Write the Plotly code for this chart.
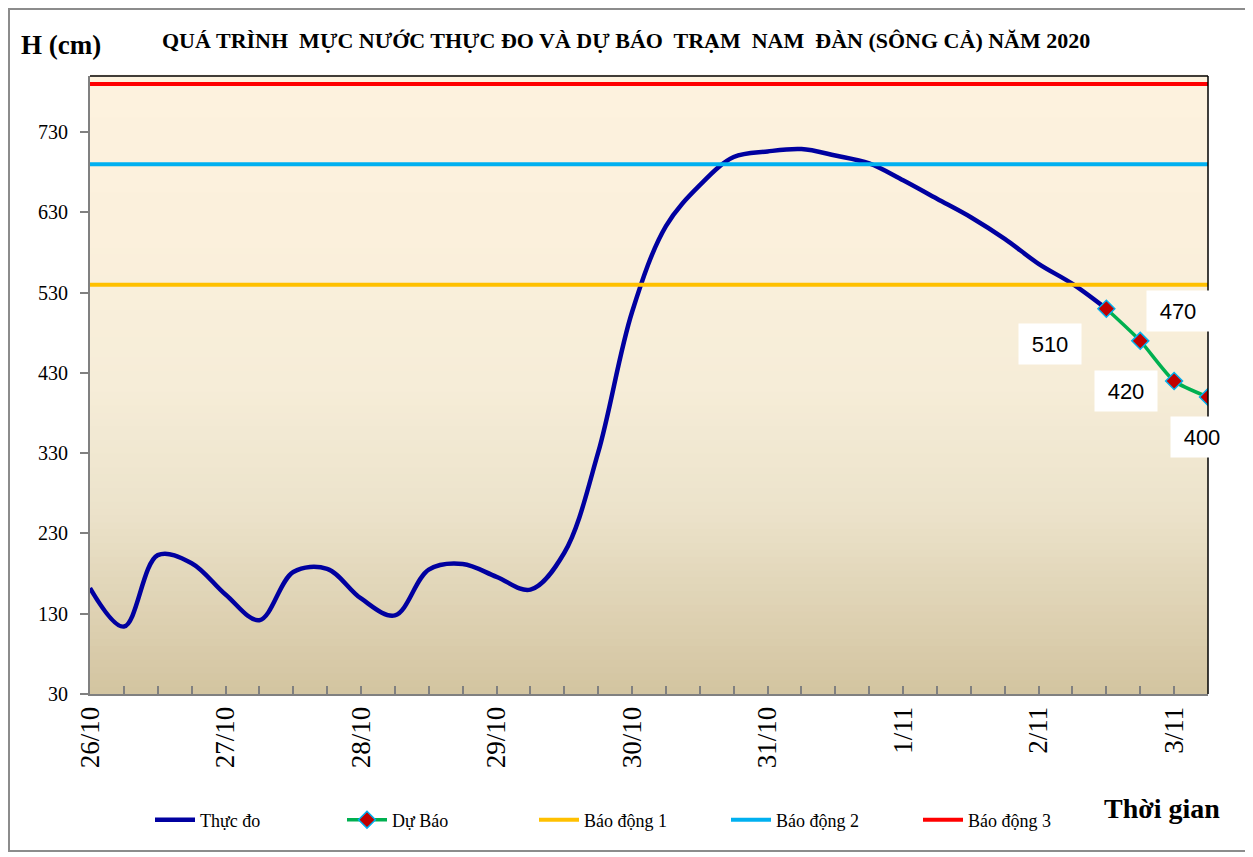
import plotly.graph_objects as go

# ---- data ----
x_labels = ["26/10", "27/10", "28/10", "29/10", "30/10", "31/10", "1/11", "2/11", "3/11"]
obs_idx = list(range(31))
obs_val = [162, 114, 203, 193, 154, 122, 182, 186, 149, 128, 185, 192, 176, 160,
           206, 331, 506, 613, 664, 699, 706, 709, 701, 691, 670, 647, 624, 597,
           566, 541, 510]
fc_idx = [30, 31, 32, 33]
fc_val = [510, 470, 420, 400]
alarm_names = ["Báo động 1", "Báo động 2", "Báo động 3"]
alarm_vals = [540, 690, 790]
alarm_colors = ["#FFC000", "#00B0F0", "#FF0000"]
y_ticks = [30, 130, 230, 330, 430, 530, 630, 730]
x_span = [0, 33]

fig = go.Figure()

fig.add_trace(go.Scatter(x=obs_idx, y=obs_val, mode="lines", name="Thực đo",
                         line=dict(color="#0000A0", width=4.5, shape="spline", smoothing=1.0)))
fig.add_trace(go.Scatter(x=fc_idx, y=fc_val, mode="lines+markers", name="Dự Báo",
                         line=dict(color="#00B050", width=3.5, shape="spline", smoothing=0.6),
                         marker=dict(symbol="diamond", size=13, color="#C00000",
                                     line=dict(color="#00B0F0", width=1.5))))
for n, v, c in zip(alarm_names, alarm_vals, alarm_colors):
    fig.add_trace(go.Scatter(x=x_span, y=[v, v], mode="lines", name=n,
                             line=dict(color=c, width=4)))

# gradient background bands
def lerp(a, b, t):
    return tuple(int(round(a[i] + (b[i] - a[i]) * t)) for i in range(3))

stops = [(0.0, (211, 196, 160)), (0.3, (236, 227, 203)), (0.5, (246, 237, 216)),
         (0.75, (251, 240, 220)), (1.0, (253, 242, 222))]
shapes = []
N = 90
for k in range(N):
    f0, f1 = k / N, (k + 1) / N
    fm = (f0 + f1) / 2
    for j in range(len(stops) - 1):
        if stops[j][0] <= fm <= stops[j + 1][0]:
            t = (fm - stops[j][0]) / (stops[j + 1][0] - stops[j][0])
            col = lerp(stops[j][1], stops[j + 1][1], t)
            break
    shapes.append(dict(type="rect", xref="paper", yref="paper", x0=0, x1=1, y0=f0, y1=f1 + 0.002,
                       fillcolor="rgb(%d,%d,%d)" % col, line=dict(width=0), layer="below"))
# top and right black border of plot area
shapes.append(dict(type="line", xref="paper", yref="paper", x0=0, x1=1, y0=1, y1=1,
                   line=dict(color="black", width=1.5)))
shapes.append(dict(type="line", xref="paper", yref="paper", x0=1, x1=1, y0=0, y1=1,
                   line=dict(color="black", width=1.5)))
# outer chart border
shapes.append(dict(type="rect", xref="paper", yref="paper", x0=(1 - 82) / 1118, x1=(1239 - 82) / 1118,
                   y0=(686 - 843) / 618, y1=(686 - 1) / 618,
                   line=dict(color="#8C8C8C", width=2), layer="below"))

annos = []
lbl_font = dict(family="Liberation Sans, Arial", size=22, color="black")
for xi, yv, xs, ys in zip(fc_idx, fc_val, [-56, 38, -48, -6], [-35, 30, -10, -40]):
    annos.append(dict(x=xi, y=yv, xref="x", yref="y", text=str(yv), showarrow=False,
                      xshift=xs, yshift=ys, bgcolor="white", borderpad=4,
                      width=54, height=32, font=lbl_font))

annos.append(dict(text="<b>QUÁ TRÌNH\u00a0 MỰC NƯỚC THỰC ĐO VÀ DỰ BÁO\u00a0 TRẠM\u00a0 NAM\u00a0 ĐÀN (SÔNG CẢ) NĂM 2020</b>",
                  xref="paper", yref="paper", x=(626 - 90) / 1118, y=(694 - 40) / 618,
                  xanchor="center", yanchor="middle", showarrow=False,
                  font=dict(family="Liberation Serif", size=22, color="black")))
annos.append(dict(text="<b>H (cm)</b>", xref="paper", yref="paper", x=(61 - 90) / 1118,
                  y=(694 - 45) / 618, xanchor="center", yanchor="middle", showarrow=False,
                  font=dict(family="Liberation Serif", size=27, color="black")))
annos.append(dict(text="<b>Thời gian</b>", xref="paper", yref="paper", x=(1162 - 90) / 1118,
                  y=(694 - 808) / 618, xanchor="center", yanchor="middle", showarrow=False,
                  font=dict(family="Liberation Serif", size=28, color="black")))

fig.update_layout(
    width=1245, height=849,
    margin=dict(l=82, r=45, t=68, b=163),
    paper_bgcolor="white", plot_bgcolor="rgb(253,242,222)",
    shapes=shapes, annotations=annos,
    showlegend=True,
    legend=dict(orientation="h", x=(150 - 90) / 1118, xanchor="left",
                y=(694 - 820) / 618, yanchor="middle",
                font=dict(family="Liberation Serif", size=18, color="black"),
                bgcolor="rgba(0,0,0,0)", entrywidth=137, itemwidth=40),
    xaxis=dict(range=x_span, tickmode="array", tickvals=list(range(0, 33, 4)), ticktext=x_labels,
               tickangle=-90, ticks="inside", ticklen=8, tickcolor="#808080", tickwidth=1.5,
               minor=dict(dtick=1, tick0=0, ticks="inside", ticklen=8, tickcolor="#808080", tickwidth=1.5),
               showline=True, linecolor="#808080", linewidth=2, showgrid=False, zeroline=False,
               tickfont=dict(family="Liberation Serif", size=27, color="black")),
    yaxis=dict(range=[30, 800], tickmode="array", tickvals=y_ticks, ticks="outside", ticklen=8,
               tickcolor="#808080", tickwidth=1.5, showline=True, linecolor="#808080", linewidth=2,
               showgrid=False, zeroline=False, ticklabelstandoff=8,
               tickfont=dict(family="Liberation Serif", size=20, color="black")),
)

fig.write_html("out.html")
